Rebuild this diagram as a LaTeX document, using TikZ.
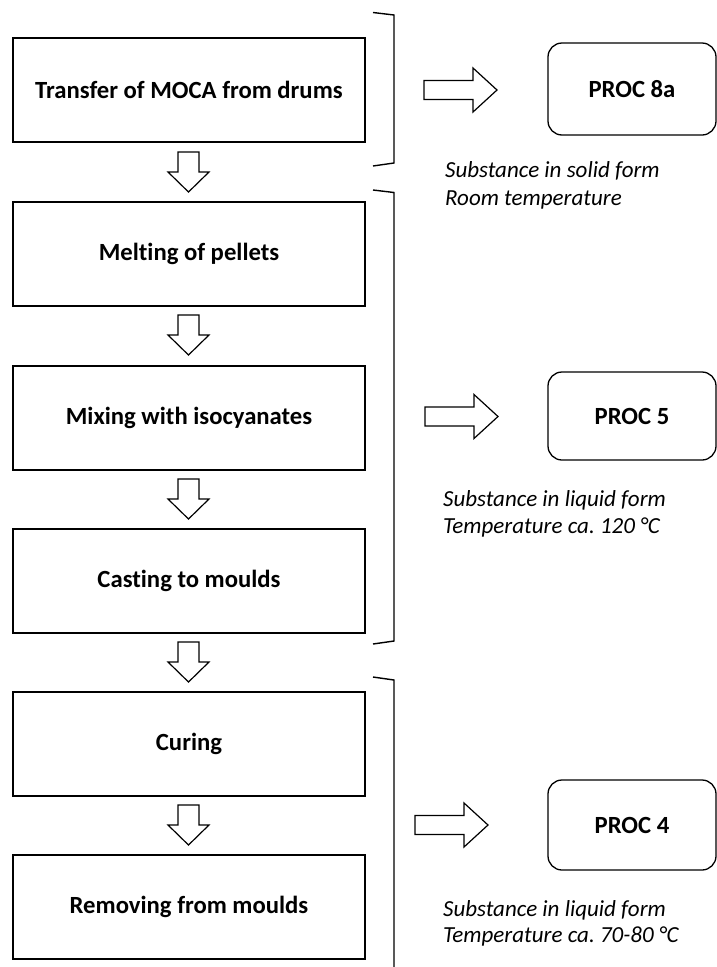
\documentclass[tikz,border=0pt]{standalone}
\usepackage{fontspec}
\setmainfont{Carlito}[Ligatures=NoCommon]
\frenchspacing
\begin{document}
\begin{tikzpicture}[x=1pt,y=-1pt,
  stepbox/.style={draw,line width=1.4pt,minimum width=352pt,minimum height=104pt,inner sep=0pt,font=\fontsize{24.7}{28}\selectfont\bfseries},
  procbox/.style={draw,line width=1.3pt,rounded corners=14pt,inner sep=0pt,font=\fontsize{24.7}{28}\selectfont\bfseries},
  note/.style={anchor=base west,inner sep=0pt,font=\fontsize{23}{27}\selectfont\itshape},
  blk/.style={draw,line width=1.2pt,line join=miter,fill=white},
  brk/.style={draw,line width=1.4pt},
  downarr/.pic={\path[blk] (-10.5,0) -- (10.5,0) -- (10.5,20) -- (20.5,20) -- (0,40) -- (-20.5,20) -- (-10.5,20) -- cycle;},
  rightarr/.pic={\path[blk] (0,-9.5) -- (49,-9.5) -- (49,-22) -- (73,0) -- (49,22) -- (49,9.5) -- (0,9.5) -- cycle;}
]
\useasboundingbox (0,0) rectangle (717,967);

% process steps
\node[stepbox] (s1) at (189,90)  {Transfer of MOCA from drums};
\node[stepbox] (s2) at (189,254) {Melting of pellets};
\node[stepbox] (s3) at (189,418) {Mixing with isocyanates};
\node[stepbox] (s4) at (189,581) {Casting to moulds};
\node[stepbox] (s5) at (189,744) {Curing};
\node[stepbox] (s6) at (189,907) {Removing from moulds};

% down arrows
\pic at (188.5,152) {downarr};
\pic at (188.5,315) {downarr};
\pic at (188.5,479) {downarr};
\pic at (188.5,642) {downarr};
\pic at (188.5,805) {downarr};

% brackets
\draw[brk] (373,12.5) -- (394,15) -- (394,163) -- (373,166);
\draw[brk] (373,190) -- (394,192.5) -- (394,641) -- (373,644);
\draw[brk] (373,677) -- (394,680) -- (394,972);

% right arrows
\pic at (424,90) {rightarr};
\pic at (425,416.5) {rightarr};
\pic at (415,825) {rightarr};

% PROC boxes
\node[procbox,minimum width=168pt,minimum height=92pt] (p1) at (632,89) {PROC 8a};
\node[procbox,minimum width=168pt,minimum height=88pt] (p2) at (632,416) {PROC 5};
\node[procbox,minimum width=168pt,minimum height=90pt] (p3) at (632,825) {PROC 4};

% notes
\node[note] (n1a) at (445,177) {Substance in solid form};
\node[note] (n1b) at (445,205) {Room temperature};
\node[note] (n2a) at (443,506) {Substance in liquid form};
\node[note] (n2b) at (443,533) {Temperature ca. 120 °C};
\node[note] (n3a) at (443,916) {Substance in liquid form};
\node[note] (n3b) at (443,942) {Temperature ca. 70-80 °C};
\end{tikzpicture}
\end{document}
